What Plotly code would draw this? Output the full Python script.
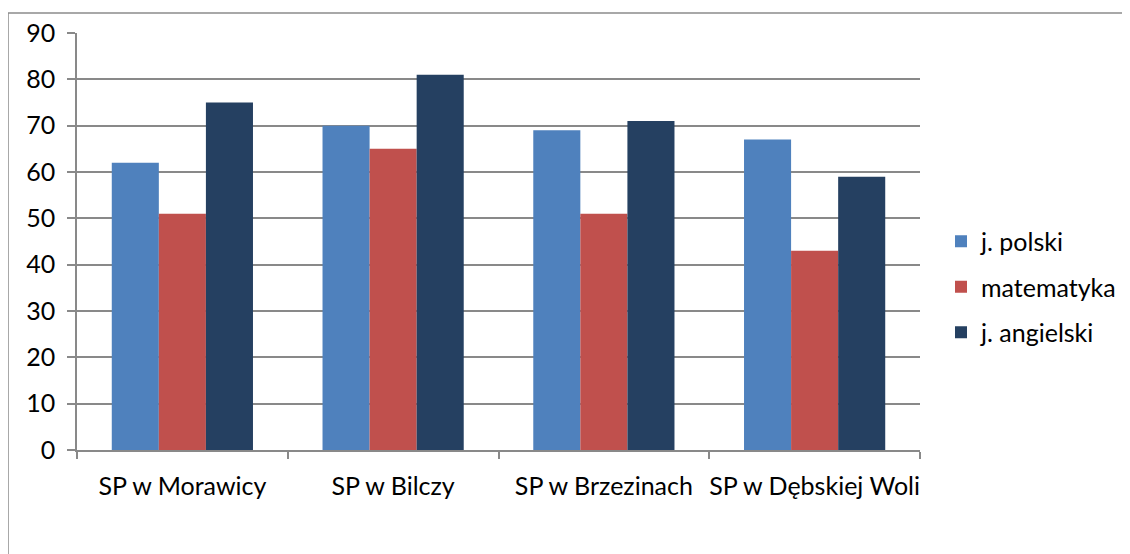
import plotly.graph_objects as go

categories = ["SP w Morawicy", "SP w Bilczy", "SP w Brzezinach", "SP w Dębskiej Woli"]
series_names = ["j. polski", "matematyka", "j. angielski"]
polski = [62, 70, 69, 67]
matematyka = [51, 65, 51, 43]
angielski = [75, 81, 71, 59]
y_ticks = [0, 10, 20, 30, 40, 50, 60, 70, 80, 90]

colors = ["#4F81BD", "#C0504D", "#254061"]
values = [polski, matematyka, angielski]

fig = go.Figure()
for name, vals, col in zip(series_names, values, colors):
    fig.add_trace(go.Bar(x=categories, y=vals, name=name, marker_color=col,
                         marker_line_width=0, legendgroup=name))

W, H = 1130, 554
l, r, t, b = 69, 218, 25, 112
pw = W - l - r
ph = H - t - b

fig.update_layout(
    width=W, height=H,
    margin=dict(l=l, r=r, t=t, b=b, autoexpand=False),
    paper_bgcolor="white", plot_bgcolor="white",
    font=dict(family="Lato, Open Sans, sans-serif", size=25, color="black"),
    barmode="group", bargap=0.33, bargroupgap=0,
    showlegend=True,
    legend=dict(x=(941 - 8 - l) / pw, y=(H - b - (287 - 8)) / ph,
                xanchor="left", yanchor="middle",
                tracegroupgap=10, font=dict(size=25),
                bgcolor="rgba(0,0,0,0)"),
    xaxis=dict(showline=True, linecolor="#898989", linewidth=1.5,
               ticks="outside", tickson="boundaries", ticklen=7,
               tickcolor="#898989", tickwidth=1.5, ticklabelstandoff=13,
               tickangle=0, automargin=False, showgrid=False),
    yaxis=dict(range=[0, 90], tickvals=y_ticks, showline=True,
               linecolor="#898989", linewidth=1.5, ticks="outside",
               ticklen=8, tickcolor="#898989", tickwidth=1.5,
               showgrid=True, gridcolor="#898989", gridwidth=1.5,
               zeroline=False, ticklabelstandoff=7, automargin=False),
    shapes=[dict(type="rect", xref="paper", yref="paper",
                 x0=(0 - l) / pw, x1=2.0,
                 y0=-1.0, y1=1 + (t - 5) / ph,
                 line=dict(color="#8c8c8c", width=1.5),
                 fillcolor="rgba(0,0,0,0)", layer="below")],
)

fig.write_html("out.html")
